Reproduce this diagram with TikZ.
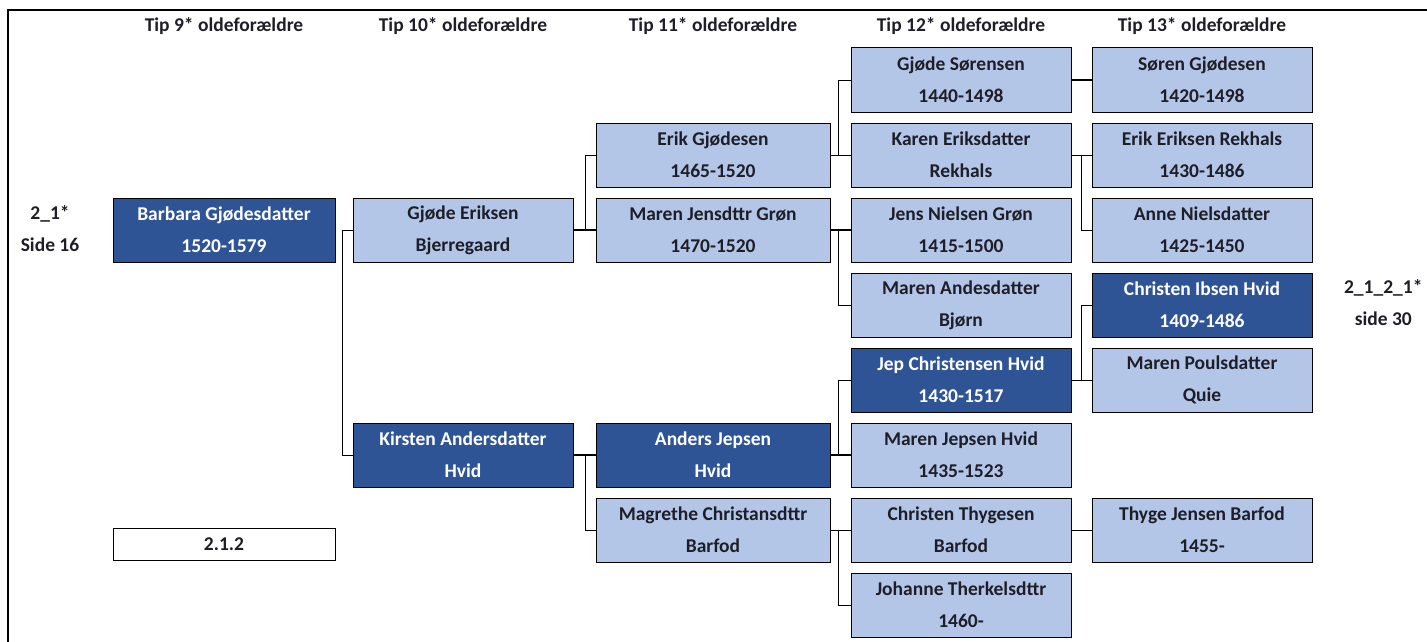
\documentclass[tikz,border=0pt]{standalone}
\usepackage{fontspec}
\setmainfont{Carlito}
\usetikzlibrary{positioning}
\definecolor{anelys}{RGB}{180,198,231}
\definecolor{anemork}{RGB}{47,84,150}
\definecolor{anetekst}{RGB}{30,30,40}

\begin{document}
\begin{tikzpicture}[x=1pt, y=-1pt, font=\fontsize{19.5}{32}\selectfont\bfseries,
    node distance=10pt,
    lys/.style={draw, line width=1pt, fill=anelys, text=anetekst, minimum width=220pt,
                minimum height=64pt, align=center, inner sep=0pt},
    mork/.style={lys, fill=anemork, text=white},
    tom/.style={lys, fill=white, minimum height=32pt},
    kop/.style={text=anetekst, align=center},
    led/.style={line width=0.8pt},
    tyk/.style={line width=2pt}]
    \useasboundingbox (0,0) rectangle (1427,642);
    \draw[line width=1.5pt] (8,642) -- (8,10) -- (1427,10);

    % overskrifter
    \node[kop] (h9) at (224,26) {Tip 9* oldeforældre};
    \node[kop] (h10) at (463,26) {Tip 10* oldeforældre};
    \node[kop] (h11) at (713,26) {Tip 11* oldeforældre};
    \node[kop] (h12) at (961,26) {Tip 12* oldeforældre};
    \node[kop] (h13) at (1202,26) {Tip 13* oldeforældre};

    % side-henvisninger
    \node[kop] (ref1) at (50,229) {2\_1*\\Side 16};
    \node[kop, anchor=east] (ref2) at (1426,303) {2\_1\_2\_1*\\side 30};

    % tip 9
    \node[mork, minimum width=222pt] (bg) at (224,230) {Barbara Gjødesdatter\\1520-1579};
    \node[tom, minimum width=222pt] (nr) at (224,544) {2.1.2};

    % tip 10
    \node[lys] (ge) at (463,230) {Gjøde Eriksen\\Bjerregaard};
    \node[mork] (ka) at (463,455) {Kirsten Andersdatter\\Hvid};

    % tip 11
    \node[lys, minimum width=234pt] (eg) at (713,155) {Erik Gjødesen\\1465-1520};
    \node[lys, minimum width=234pt, below=of eg] (mj) {Maren Jensdttr Grøn\\1470-1520};
    \node[mork, minimum width=234pt] (aj) at (713,455) {Anders Jepsen\\Hvid};
    \node[lys, minimum width=234pt, below=of aj] (mc) {Magrethe Christansdttr\\Barfod};

    % tip 12
    \node[lys] (gs) at (961,80) {Gjøde Sørensen\\1440-1498};
    \node[lys, below=of gs] (ker) {Karen Eriksdatter\\Rekhals};
    \node[lys, below=of ker] (jn) {Jens Nielsen Grøn\\1415-1500};
    \node[lys, below=of jn] (ma) {Maren Andesdatter\\Bjørn};
    \node[mork, below=of ma] (jc) {Jep Christensen Hvid\\1430-1517};
    \node[lys, below=of jc] (mjh) {Maren Jepsen Hvid\\1435-1523};
    \node[lys, below=of mjh] (ct) {Christen Thygesen\\Barfod};
    \node[lys, below=of ct] (jt) {Johanne Therkelsdttr\\1460-};

    % tip 13
    \node[lys] (sg) at (1202,80) {Søren Gjødesen\\1420-1498};
    \node[lys, below=of sg] (eer) {Erik Eriksen Rekhals\\1430-1486};
    \node[lys, below=of eer] (an) {Anne Nielsdatter\\1425-1450};
    \node[mork, below=of an] (cih) {Christen Ibsen Hvid\\1409-1486};
    \node[lys, below=of cih] (mp) {Maren Poulsdatter\\Quie};
    \node[lys] (tj) at (1202,530) {Thyge Jensen Barfod\\1455-};

    % forbindelser
    \draw[led] (ge.west) -- ++(-10,0) |- (ka.west);
    \draw[tyk] (ge.east) -- (mj.west);
    \draw[led] (eg.west) -- ++(-10,0) |- (mj.west);
    \draw[tyk] (ka.east) -- (aj.west);
    \draw[led] (mc.west) -- ++(-10,0) |- (aj.west);

    \draw[led] (eg.east) -- (ker.west);
    \draw[led] (ker.west) -- ++(-12,0) |- (gs.west);
    \draw[tyk] (mj.east) -- (jn.west);
    \draw[led] (jn.west) -- ++(-12,0) |- (ma.west);
    \draw[tyk] (aj.east) -- (mjh.west);
    \draw[led] (mjh.west) -- ++(-12,0) |- (jc.west);
    \draw[led] (mc.east) -- (ct.west);
    \draw[led] (ct.west) -- ++(-12,0) |- (jt.west);

    \draw[tyk] (gs.east) -- (sg.west);
    \draw[led] (ker.east) -- (eer.west);
    \draw[led] (eer.west) -- ++(-10,0) |- (an.west);
    \draw[led] (jc.east) -- (mp.west);
    \draw[led] (mp.west) -- ++(-10,0) |- (cih.west);
    \draw[led] (ct.east) -- (tj.west);
\end{tikzpicture}
\end{document}
